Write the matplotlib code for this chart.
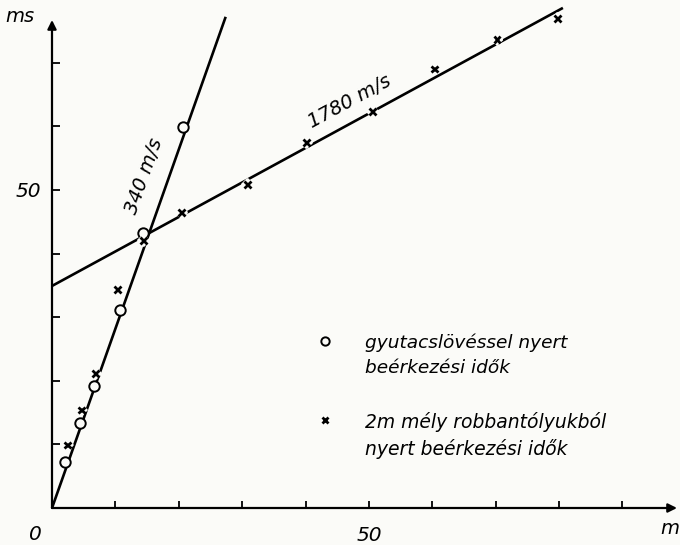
import matplotlib
matplotlib.use("Agg")
import matplotlib.pyplot as plt
import matplotlib.patheffects as pe

# ---- data ----
circle_x = [2.05, 4.4, 6.6, 10.7, 14.4, 20.7]
circle_y = [7.2, 13.4, 19.2, 31.1, 43.2, 59.9]

cross_x = [2.4, 4.7, 6.9, 10.4, 14.5, 20.5, 30.8, 40.2, 50.5, 60.4, 70.2, 79.8]
cross_y = [9.9, 15.4, 21.1, 34.3, 42.0, 46.5, 50.9, 57.4, 62.3, 69.0, 73.7, 77.0]

line340_x = [0.0, 27.4]
line340_y = [0.0, 77.2]
line1780_x = [0.0, 80.6]
line1780_y = [34.9, 78.6]

x_ticks = [10, 20, 30, 40, 50, 60, 70, 80, 90]
x_tick_labels = ['', '', '', '', '50', '', '', '', '']
y_ticks = [10, 20, 30, 40, 50, 60, 70]
y_tick_labels = ['', '', '', '', '50', '', '']

label_340 = "340 m/s"
label_1780 = "1780 m/s"
legend_circle = "gyutacslövéssel nyert\nbeérkezési idők"
legend_cross = "2m mély robbantólyukból\nnyert beérkezési idők"

BG = '#fbfbf8'
plt.rcParams['font.family'] = ['DejaVu Sans']

fig = plt.figure(figsize=(6.8, 5.45), dpi=100, facecolor=BG)
ax = fig.add_axes([52/680, 37/545, (677-52)/680, (508-20)/545])
ax.set_facecolor(BG)
XMAX, YMAX = 98.6, 76.7
ax.set_xlim(0, XMAX)
ax.set_ylim(0, YMAX)
for s in ax.spines.values():
    s.set_visible(False)

# axes with arrows
ax.annotate('', xy=(XMAX, 0), xytext=(0, 0), annotation_clip=False,
            arrowprops=dict(arrowstyle='-|>', lw=1.6, color='k',
                            mutation_scale=13, shrinkA=0, shrinkB=0))
ax.annotate('', xy=(0, YMAX), xytext=(0, 0), annotation_clip=False,
            arrowprops=dict(arrowstyle='-|>', lw=1.6, color='k',
                            mutation_scale=13, shrinkA=0, shrinkB=0))

ax.set_xticks(x_ticks)
ax.set_xticklabels(x_tick_labels, fontsize=14.5, style='italic')
ax.set_yticks(y_ticks)
ax.set_yticklabels(y_tick_labels, fontsize=14.5, style='italic')
ax.tick_params(axis='x', direction='in', length=5, width=1.3, pad=13)
ax.tick_params(axis='y', direction='in', length=6, width=1.3, pad=8)

# lines
ax.plot(line340_x, line340_y, color='k', lw=1.9, clip_on=False,
        solid_capstyle='butt')
ax.plot(line1780_x, line1780_y, color='k', lw=1.9, clip_on=False,
        solid_capstyle='butt')

# points
ax.plot(circle_x, circle_y, 'o', ms=7.5, mfc=BG, mec='k', mew=1.4,
        clip_on=False, zorder=4)
ax.plot(cross_x, cross_y, 'x', ms=5, mec='k', mew=2.0, clip_on=False,
        zorder=5,
        path_effects=[pe.Stroke(linewidth=6, foreground=BG), pe.Normal()])

# line labels
ax.text(14.6, 52.2, label_340, rotation=70.5, rotation_mode='anchor',
        ha='center', va='center', fontsize=14, style='italic')
ax.text(47.0, 63.9, label_1780, rotation=28.5, rotation_mode='anchor',
        ha='center', va='center', fontsize=14, style='italic')

# axis labels
ax.text(-5.0, 77.3, 'ms', ha='center', va='center', fontsize=14,
        style='italic')
ax.text(97.4, -3.2, 'm', ha='center', va='center', fontsize=14,
        style='italic')
ax.text(-2.6, -4.2, '0', ha='center', va='center', fontsize=14.5,
        style='italic')

# legend
ax.plot([43.1], [26.2], 'o', ms=6, mfc=BG, mec='k', mew=1.4)
ax.text(49.4, 24.0, legend_circle, ha='left', va='center', fontsize=13.3,
        style='italic', linespacing=1.45)
ax.plot([43.1], [13.8], 'x', ms=4.5, mec='k', mew=2.0)
ax.text(49.4, 11.4, legend_cross, ha='left', va='center', fontsize=13.5,
        style='italic', linespacing=1.45)

fig.savefig('out.png', dpi=100, facecolor=BG)
